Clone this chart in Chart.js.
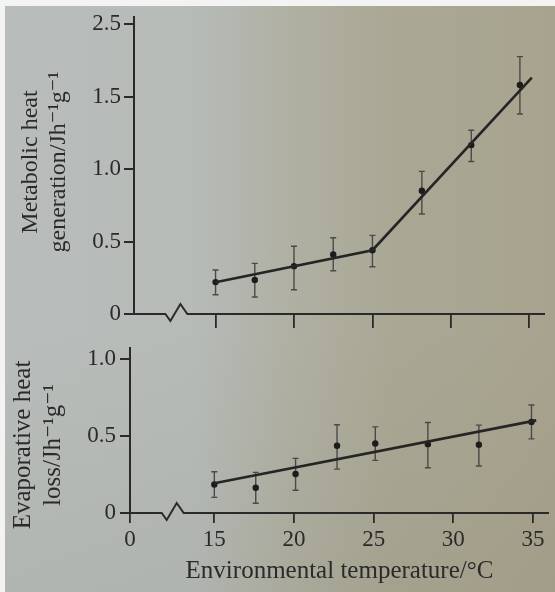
<!DOCTYPE html>
<html>
<head>
<meta charset="utf-8">
<script src="https://cdn.jsdelivr.net/npm/chart.js@4.4.1/dist/chart.umd.min.js"></script>
<style>
html,body{margin:0;padding:0;width:555px;height:592px;overflow:hidden;}
#bg{position:absolute;left:0;top:0;width:555px;height:592px;
  background:
   linear-gradient(180deg, rgba(255,255,255,0) 55%, rgba(70,60,30,0.06) 100%),
   linear-gradient(90deg, #b8bdbb 0%, #b6bbb8 35%, #b0b0a3 52%, #aaa895 70%, #a7a38f 100%);
  box-shadow: inset 5px 6px 0 #f2f3f2;}
canvas{position:absolute;left:0;}
</style>
</head>
<body>
<div id="bg"></div>
<canvas id="topChart" width="555" height="332" style="top:0px"></canvas>
<canvas id="botChart" width="555" height="262" style="top:330px"></canvas>
<script>
// ---------- Data: top panel (metabolic heat generation) ----------
const topTemps      = [15, 17.5, 20, 22.5, 25, 28.15, 31.3, 34.4];
const topMetabolic  = [0.22, 0.235, 0.33, 0.41, 0.44, 0.85, 1.165, 1.58];
const topErrUpper   = [0.303, 0.349, 0.467, 0.526, 0.542, 0.984, 1.267, 1.775];
const topErrLower   = [0.133, 0.117, 0.167, 0.298, 0.326, 0.69, 1.052, 1.38];
const topFitTemps   = [15, 25, 35.16];
const topFitValues  = [0.219, 0.44, 1.63];
const topYTicks      = [0, 0.5, 1.0, 1.5, 2.0];
const topYTickLabels = ['0', '0.5', '1.0', '1.5', '2.5'];
const topXTicks      = [15, 20, 25, 30, 35];

// ---------- Data: bottom panel (evaporative heat loss) ----------
const botTemps      = [15, 17.6, 20.1, 22.7, 25.1, 28.4, 31.6, 34.9];
const botEvap       = [0.185, 0.164, 0.253, 0.436, 0.45, 0.446, 0.442, 0.59];
const botErrUpper   = [0.267, 0.263, 0.354, 0.572, 0.558, 0.586, 0.569, 0.70];
const botErrLower   = [0.101, 0.063, 0.147, 0.284, 0.341, 0.293, 0.304, 0.48];
const botFitTemps   = [15, 35.2];
const botFitValues  = [0.193, 0.60];
const botYTicks      = [0, 0.5, 1.0];
const botYTickLabels = ['0', '0.5', '1.0'];
const botXMin        = 9.71;
const botXTicks      = [botXMin, 15, 20, 25, 30, 35];
const botXTickLabels = ['0', '15', '20', '25', '30', '35'];

const topTitleLines = ['Metabolic heat', 'generation/Jh\u207B\u00B9g\u207B\u00B9'];
const botTitleLines = ['Evaporative heat', 'loss/Jh\u207B\u00B9g\u207B\u00B9'];
const xTitle = 'Environmental temperature/\u00B0C';

const SERIF = "'Liberation Serif', 'DejaVu Serif', 'Times New Roman', serif";
const INK = '#2a2a2a';

const decor = {
  id: 'decor',
  beforeDatasetsDraw(chart, args, o) {
    const {ctx, scales: {x, y}} = chart;
    const pts = chart.data.datasets[1].data;
    ctx.save();
    ctx.strokeStyle = '#4a4a48';
    ctx.lineWidth = 1.4;
    pts.forEach((p, i) => {
      const px = x.getPixelForValue(p.x);
      const hi = y.getPixelForValue(o.upper[i]);
      const lo = y.getPixelForValue(o.lower[i]);
      ctx.beginPath();
      ctx.moveTo(px, hi); ctx.lineTo(px, lo);
      ctx.moveTo(px - 3, hi); ctx.lineTo(px + 3, hi);
      ctx.moveTo(px - 3, lo); ctx.lineTo(px + 3, lo);
      ctx.stroke();
    });
    ctx.restore();
  },
  afterDraw(chart, args, o) {
    const {ctx, chartArea, scales: {x, y}} = chart;
    const yb = y.getPixelForValue(0);
    const bx = x.getPixelForValue(o.breakAt);
    ctx.save();
    ctx.strokeStyle = INK;
    ctx.lineWidth = 2;
    ctx.lineJoin = 'miter';
    ctx.beginPath();
    ctx.moveTo(chartArea.left, yb);
    ctx.lineTo(bx, yb);
    ctx.lineTo(bx + 5, yb + 7);
    ctx.lineTo(bx + 15, yb - 10);
    ctx.lineTo(bx + 22, yb);
    ctx.lineTo(chartArea.right, yb);
    ctx.stroke();
    // rotated y-axis title
    ctx.fillStyle = INK;
    ctx.font = o.titleSize + 'px ' + SERIF;
    ctx.textAlign = 'center';
    ctx.textBaseline = 'middle';
    o.titleLines.forEach((line, i) => {
      ctx.save();
      ctx.translate(o.titleX[i], o.titleY);
      ctx.rotate(-Math.PI / 2);
      ctx.fillText(line, 0, 0);
      ctx.restore();
    });
    ctx.restore();
  }
};

function makeChart(id, cfg) {
  return new Chart(document.getElementById(id), {
    type: 'scatter',
    data: {
      datasets: [
        {
          data: cfg.fitX.map((t, i) => ({x: t, y: cfg.fitY[i]})),
          showLine: true, borderColor: '#252525', borderWidth: 2.6,
          pointRadius: 0, pointHoverRadius: 0, fill: false
        },
        {
          data: cfg.px.map((t, i) => ({x: t, y: cfg.py[i]})),
          pointRadius: 3.2, pointBackgroundColor: '#1c1c1c',
          pointBorderWidth: 0, showLine: false
        }
      ]
    },
    options: {
      responsive: false, animation: false, devicePixelRatio: 1,
      layout: {padding: {top: 14, right: cfg.padRight, left: 0, bottom: 0}},
      plugins: {
        legend: {display: false}, tooltip: {enabled: false},
        decor: {upper: cfg.up, lower: cfg.lo, breakAt: cfg.breakAt,
                titleLines: cfg.titleLines, titleX: cfg.titleX, titleY: cfg.titleY,
                titleSize: cfg.titleSize}
      },
      scales: {
        x: {
          type: 'linear', min: cfg.xMin, max: 36.0,
          afterBuildTicks: s => { s.ticks = cfg.xTicks.map(v => ({value: v})); },
          afterFit: s => { s.height = cfg.xHeight; },
          border: {display: false},
          grid: {drawOnChartArea: false, drawTicks: true, tickLength: cfg.xTickLen, color: INK, lineWidth: 1.8},
          ticks: {
            autoSkip: false, maxRotation: 0, padding: 3, color: INK,
            font: {family: SERIF, size: 23},
            callback: (v, i) => cfg.xLabels ? cfg.xLabels[i] : ''
          },
          title: cfg.xTitle ? {display: true, text: cfg.xTitle, color: INK,
                  font: {family: SERIF, size: 25}, padding: {top: 0, bottom: 6}} : {display: false}
        },
        y: {
          type: 'linear', min: 0, max: cfg.yMax,
          afterBuildTicks: s => { s.ticks = cfg.yTicks.map(v => ({value: v})); },
          afterFit: s => { s.width = cfg.yWidth; },
          border: {display: true, color: INK, width: 2},
          grid: {drawOnChartArea: false, drawTicks: true, tickLength: 10, color: INK, lineWidth: 2},
          ticks: {
            autoSkip: false, padding: cfg.yPad, color: INK,
            font: {family: SERIF, size: 23},
            callback: (v, i) => cfg.yLabels[i]
          }
        }
      }
    },
    plugins: [decor]
  });
}

makeChart('topChart', {
  px: topTemps, py: topMetabolic, up: topErrUpper, lo: topErrLower,
  fitX: topFitTemps, fitY: topFitValues,
  xMin: 9.8, xTicks: topXTicks, xLabels: null, xHeight: 18, xTickLen: 14, xTitle: null,
  yMax: 2.05, yTicks: topYTicks, yLabels: topYTickLabels, yWidth: 134, yPad: 3,
  padRight: 10, breakAt: 11.8,
  titleLines: topTitleLines, titleX: [31, 59], titleY: 162, titleSize: 24
});

makeChart('botChart', {
  px: botTemps, py: botEvap, up: botErrUpper, lo: botErrLower,
  fitX: botFitTemps, fitY: botFitValues,
  xMin: botXMin, xTicks: botXTicks, xLabels: botXTickLabels, xHeight: 79, xTickLen: 10, xTitle: xTitle,
  yMax: 1.07, yTicks: botYTicks, yLabels: botYTickLabels, yWidth: 130, yPad: 4,
  padRight: 6, breakAt: 11.7,
  titleLines: botTitleLines, titleX: [23, 53], titleY: 115, titleSize: 25
});
</script>
</body>
</html>
